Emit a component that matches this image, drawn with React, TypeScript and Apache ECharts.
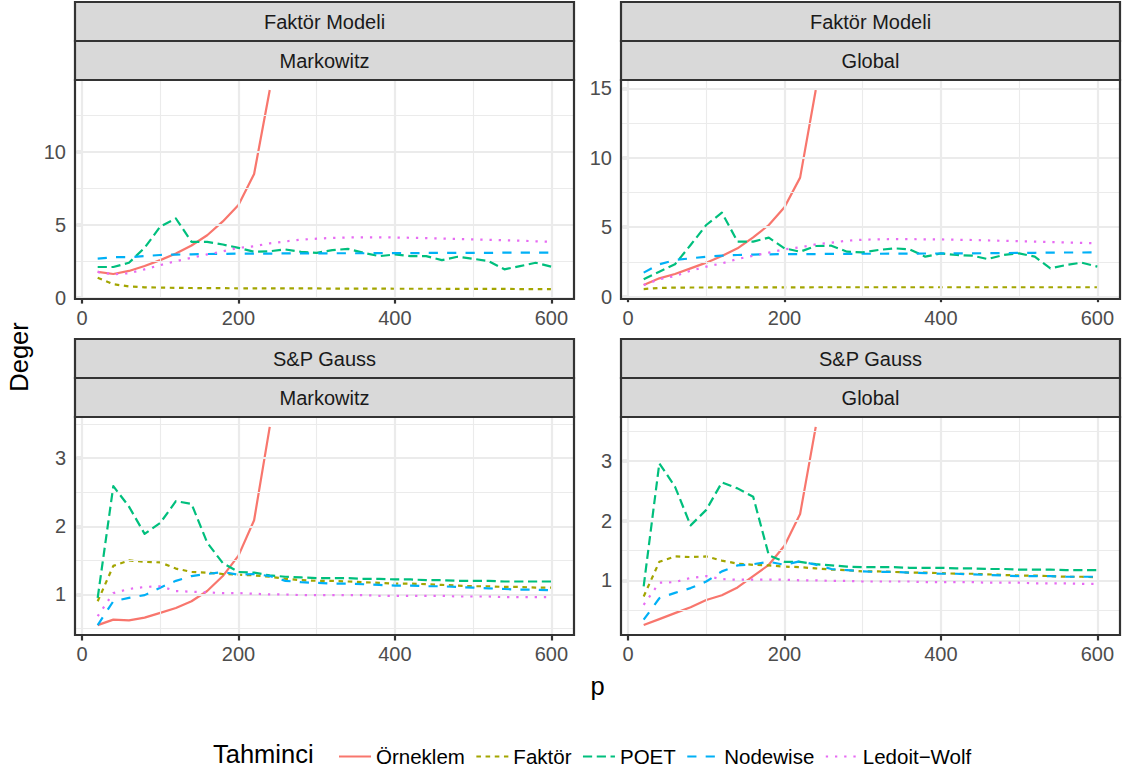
import React, { useEffect, useRef } from "react";
import * as echarts from "echarts";

// ---------- data ----------
const P = [20, 40, 60, 80, 100, 120, 140, 160, 180, 200, 220, 240, 260, 280, 300, 320, 340, 360, 380, 400, 420, 440, 460, 480, 500, 520, 540, 560, 580, 600];

const ESTIMATORS = ["Örneklem", "Faktör", "POET", "Nodewise", "Ledoit−Wolf"];

const STRIP_TOP = ["Faktör Modeli", "Faktör Modeli", "S&P Gauss", "S&P Gauss"];
const STRIP_BOTTOM = ["Markowitz", "Global", "Markowitz", "Global"];

const X_TICKS = [0, 200, 400, 600];
const X_MINOR = [100, 300, 500];

const Y_TICKS_FM_MARK = [0, 5, 10];
const Y_MINOR_FM_MARK = [2.5, 7.5, 12.5];
const Y_TICKS_FM_GLOB = [0, 5, 10, 15];
const Y_MINOR_FM_GLOB = [2.5, 7.5, 12.5];
const Y_TICKS_SP_MARK = [1, 2, 3];
const Y_MINOR_SP_MARK = [0.5, 1.5, 2.5, 3.5];
const Y_TICKS_SP_GLOB = [1, 2, 3];
const Y_MINOR_SP_GLOB = [0.5, 1.5, 2.5, 3.5];

// Faktör Modeli / Markowitz
const FM_MARK_ORN = [1.79, 1.65, 1.86, 2.2, 2.6, 3.05, 3.6, 4.3, 5.25, 6.38, 8.5, 14.25];
const FM_MARK_FAK = [1.4, 0.95, 0.8, 0.74, 0.72, 0.7, 0.69, 0.68, 0.68, 0.67, 0.67, 0.67, 0.66, 0.66, 0.66, 0.65, 0.65, 0.65, 0.65, 0.64, 0.64, 0.64, 0.64, 0.63, 0.63, 0.63, 0.63, 0.62, 0.62, 0.62];
const FM_MARK_POET = [2.13, 2.13, 2.42, 3.44, 4.9, 5.45, 3.85, 3.85, 3.67, 3.44, 3.17, 3.21, 3.33, 3.17, 3.1, 3.28, 3.37, 3.1, 2.87, 2.99, 2.87, 2.87, 2.6, 2.83, 2.69, 2.53, 1.97, 2.19, 2.42, 2.15];
const FM_MARK_NODE = [2.7, 2.8, 2.8, 2.88, 2.95, 2.98, 3.0, 3.02, 3.03, 3.04, 3.05, 3.05, 3.06, 3.06, 3.06, 3.07, 3.07, 3.07, 3.08, 3.08, 3.08, 3.09, 3.09, 3.1, 3.1, 3.1, 3.11, 3.11, 3.12, 3.12];
const FM_MARK_LW = [1.79, 1.63, 1.7, 1.97, 2.26, 2.53, 2.76, 2.99, 3.2, 3.44, 3.55, 3.75, 3.88, 4.0, 4.07, 4.12, 4.15, 4.16, 4.16, 4.15, 4.13, 4.11, 4.08, 4.05, 4.02, 3.99, 3.96, 3.93, 3.89, 3.85];

// Faktör Modeli / Global
const FM_GLOB_ORN = [0.84, 1.32, 1.63, 2.04, 2.45, 2.93, 3.48, 4.27, 5.16, 6.43, 8.57, 14.88];
const FM_GLOB_FAK = [0.55, 0.63, 0.65, 0.66, 0.66, 0.67, 0.67, 0.67, 0.67, 0.67, 0.67, 0.68, 0.68, 0.68, 0.68, 0.68, 0.68, 0.68, 0.68, 0.68, 0.68, 0.68, 0.68, 0.68, 0.68, 0.68, 0.68, 0.68, 0.68, 0.68];
const FM_GLOB_POET = [1.25, 1.8, 2.33, 3.72, 5.16, 6.05, 3.96, 3.96, 4.25, 3.48, 3.24, 3.65, 3.67, 3.24, 3.19, 3.36, 3.48, 3.41, 2.88, 3.12, 3.0, 2.95, 2.71, 3.0, 3.12, 2.88, 2.04, 2.28, 2.45, 2.16];
const FM_GLOB_NODE = [1.73, 2.33, 2.64, 2.76, 2.88, 2.95, 3.0, 3.03, 3.05, 3.06, 3.07, 3.07, 3.08, 3.08, 3.09, 3.09, 3.1, 3.1, 3.11, 3.11, 3.12, 3.12, 3.13, 3.14, 3.15, 3.16, 3.17, 3.18, 3.18, 3.19];
const FM_GLOB_LW = [0.84, 1.25, 1.49, 1.87, 2.16, 2.4, 2.71, 2.95, 3.17, 3.41, 3.55, 3.77, 3.89, 4.03, 4.1, 4.13, 4.14, 4.14, 4.13, 4.12, 4.1, 4.08, 4.05, 4.02, 3.99, 3.96, 3.93, 3.9, 3.87, 3.84];

// S&P Gauss / Markowitz
const SP_MARK_ORN = [0.55, 0.63, 0.62, 0.66, 0.73, 0.8, 0.9, 1.05, 1.27, 1.57, 2.09, 3.46];
const SP_MARK_FAK = [0.9, 1.42, 1.5, 1.48, 1.47, 1.38, 1.33, 1.32, 1.3, 1.29, 1.28, 1.26, 1.23, 1.21, 1.2, 1.2, 1.19, 1.18, 1.17, 1.16, 1.16, 1.15, 1.14, 1.13, 1.12, 1.12, 1.11, 1.11, 1.1, 1.1];
const SP_MARK_POET = [0.95, 2.59, 2.29, 1.89, 2.05, 2.37, 2.33, 1.76, 1.46, 1.33, 1.32, 1.28, 1.26, 1.25, 1.24, 1.24, 1.24, 1.23, 1.23, 1.22, 1.22, 1.21, 1.21, 1.2, 1.2, 1.2, 1.19, 1.19, 1.19, 1.19];
const SP_MARK_NODE = [0.55, 0.9, 0.95, 0.99, 1.1, 1.2, 1.27, 1.3, 1.33, 1.29, 1.3, 1.27, 1.2, 1.18, 1.17, 1.16, 1.16, 1.15, 1.14, 1.13, 1.13, 1.12, 1.12, 1.11, 1.1, 1.09, 1.08, 1.07, 1.07, 1.06];
const SP_MARK_LW = [0.68, 1.02, 1.08, 1.11, 1.12, 1.05, 1.04, 1.03, 1.02, 1.02, 1.01, 1.0, 1.0, 0.99, 0.99, 0.99, 0.99, 0.99, 0.98, 0.98, 0.98, 0.98, 0.98, 0.97, 0.97, 0.97, 0.96, 0.96, 0.96, 0.96];

// S&P Gauss / Global
const SP_GLOB_ORN = [0.25, 0.35, 0.45, 0.55, 0.67, 0.75, 0.88, 1.07, 1.26, 1.58, 2.11, 3.57];
const SP_GLOB_FAK = [0.73, 1.31, 1.4, 1.39, 1.4, 1.33, 1.28, 1.26, 1.25, 1.23, 1.22, 1.2, 1.18, 1.17, 1.15, 1.15, 1.14, 1.13, 1.13, 1.12, 1.11, 1.11, 1.1, 1.09, 1.08, 1.08, 1.07, 1.06, 1.06, 1.05];
const SP_GLOB_POET = [0.9, 2.96, 2.57, 1.92, 2.18, 2.64, 2.54, 2.4, 1.42, 1.31, 1.31, 1.27, 1.25, 1.23, 1.22, 1.22, 1.22, 1.21, 1.21, 1.21, 1.2, 1.2, 1.19, 1.19, 1.18, 1.18, 1.18, 1.17, 1.17, 1.17];
const SP_GLOB_NODE = [0.34, 0.7, 0.79, 0.87, 0.98, 1.15, 1.25, 1.27, 1.31, 1.26, 1.32, 1.26, 1.19, 1.17, 1.15, 1.14, 1.14, 1.13, 1.12, 1.11, 1.11, 1.1, 1.09, 1.08, 1.07, 1.07, 1.07, 1.06, 1.06, 1.06];
const SP_GLOB_LW = [0.59, 0.96, 0.97, 1.04, 1.07, 1.02, 1.01, 1.01, 1.01, 1.01, 1.0, 1.0, 0.99, 0.99, 0.98, 0.98, 0.98, 0.98, 0.97, 0.97, 0.97, 0.97, 0.96, 0.96, 0.96, 0.95, 0.95, 0.95, 0.94, 0.94];

// ---------- styling / layout ----------
const FONT = "'Liberation Sans', Arial, Helvetica, sans-serif";
const COLORS = ["#F8766D", "#A3A500", "#00BF7D", "#00B0F6", "#E76BF3"];
const LW = 2.2;
const DASHES: any[] = ["solid", [4.6, 4.6], [9.2, 4.6], [9.2, 9.2], [2.3, 6.9]];
const SMALL = 20;
const LARGE = 25.5;

const PANEL_POS = [
  { left: 75, top: 80, width: 499, height: 219 },
  { left: 621, top: 80, width: 499, height: 219 },
  { left: 75, top: 417, width: 499, height: 218 },
  { left: 621, top: 417, width: 499, height: 218 },
];
const STRIP_H = 39;

const PANEL_SERIES = [
  [FM_MARK_ORN, FM_MARK_FAK, FM_MARK_POET, FM_MARK_NODE, FM_MARK_LW],
  [FM_GLOB_ORN, FM_GLOB_FAK, FM_GLOB_POET, FM_GLOB_NODE, FM_GLOB_LW],
  [SP_MARK_ORN, SP_MARK_FAK, SP_MARK_POET, SP_MARK_NODE, SP_MARK_LW],
  [SP_GLOB_ORN, SP_GLOB_FAK, SP_GLOB_POET, SP_GLOB_NODE, SP_GLOB_LW],
];
const PANEL_YTICKS = [Y_TICKS_FM_MARK, Y_TICKS_FM_GLOB, Y_TICKS_SP_MARK, Y_TICKS_SP_GLOB];
const PANEL_YMINOR = [Y_MINOR_FM_MARK, Y_MINOR_FM_GLOB, Y_MINOR_SP_MARK, Y_MINOR_SP_GLOB];

function expand(vals: number[]) {
  const lo = Math.min(...vals);
  const hi = Math.max(...vals);
  const r = hi - lo;
  return [lo - 0.05 * r, hi + 0.05 * r];
}

function buildOption() {
  const grid: any[] = [];
  const xAxis: any[] = [];
  const yAxis: any[] = [];
  const series: any[] = [];
  const graphic: any[] = [];
  const [xlo, xhi] = expand(P);

  PANEL_POS.forEach((pos, i) => {
    grid.push({ ...pos, show: true, backgroundColor: "#ffffff", borderWidth: 0 });
    const all = ([] as number[]).concat(...PANEL_SERIES[i]);
    const [ylo, yhi] = expand(all);
    const tickStyle = { show: true, length: 5.5, lineStyle: { color: "#333333", width: LW } };
    const labelStyle = { color: "#4D4D4D", fontSize: SMALL, fontFamily: FONT };
    xAxis.push({
      type: "value", gridIndex: i, min: xlo, max: xhi,
      axisLine: { show: false }, splitLine: { show: false },
      axisTick: { ...tickStyle, customValues: X_TICKS },
      axisLabel: { ...labelStyle, margin: 9, customValues: X_TICKS },
    });
    yAxis.push({
      type: "value", gridIndex: i, min: ylo, max: yhi,
      axisLine: { show: false }, splitLine: { show: false },
      axisTick: { ...tickStyle, customValues: PANEL_YTICKS[i] },
      axisLabel: { ...labelStyle, margin: 9, customValues: PANEL_YTICKS[i] },
    });

    const gl: any[] = [];
    X_MINOR.forEach((v) => gl.push({ xAxis: v, lineStyle: { color: "#EBEBEB", width: 1.1, type: "solid" } }));
    PANEL_YMINOR[i].forEach((v) => { if (v > ylo && v < yhi) gl.push({ yAxis: v, lineStyle: { color: "#EBEBEB", width: 1.1, type: "solid" } }); });
    X_TICKS.forEach((v) => gl.push({ xAxis: v, lineStyle: { color: "#EBEBEB", width: LW, type: "solid" } }));
    PANEL_YTICKS[i].forEach((v) => gl.push({ yAxis: v, lineStyle: { color: "#EBEBEB", width: LW, type: "solid" } }));
    series.push({
      type: "line", name: "_grid" + i, xAxisIndex: i, yAxisIndex: i, z: 1, silent: true,
      data: [[P[0], PANEL_SERIES[i][0][0]]], showSymbol: false, symbol: "none",
      lineStyle: { opacity: 0 },
      markLine: { symbol: ["none", "none"], silent: true, label: { show: false }, animation: false, data: gl },
    });

    ESTIMATORS.forEach((name, k) => {
      const vals = PANEL_SERIES[i][k];
      series.push({
        type: "line", name, xAxisIndex: i, yAxisIndex: i, z: 3 + k,
        data: vals.map((v, j) => [P[j], v]),
        showSymbol: false, symbol: "none", silent: true,
        color: COLORS[k],
        lineStyle: { color: COLORS[k], width: LW, type: DASHES[k], cap: "butt", join: "round" },
      });
    });

    // strips
    const s1y = pos.top - 2 * STRIP_H;
    const s2y = pos.top - STRIP_H;
    [[s1y, STRIP_TOP[i]], [s2y, STRIP_BOTTOM[i]]].forEach(([y, label]: any) => {
      graphic.push({
        type: "rect", z: 100,
        shape: { x: pos.left, y, width: pos.width, height: STRIP_H },
        style: { fill: "#D9D9D9", stroke: "#333333", lineWidth: LW },
      });
      graphic.push({
        type: "text", z: 101, x: pos.left + pos.width / 2, y: y + STRIP_H / 2,
        style: { text: label, fill: "#1A1A1A", font: `${SMALL}px ${FONT}`, textAlign: "center", textVerticalAlign: "middle" },
      });
    });
    // panel border
    graphic.push({
      type: "rect", z: 100,
      shape: { x: pos.left, y: pos.top, width: pos.width, height: pos.height },
      style: { fill: "none", stroke: "#333333", lineWidth: LW },
    });
  });

  // axis titles
  graphic.push({
    type: "text", z: 101, x: 597.5, y: 686,
    style: { text: "p", fill: "#000000", font: `${LARGE}px ${FONT}`, textAlign: "center", textVerticalAlign: "middle" },
  });
  graphic.push({
    type: "text", z: 101, x: 19, y: 357, rotation: Math.PI / 2,
    style: { text: "Deger", fill: "#000000", font: `${LARGE}px ${FONT}`, textAlign: "center", textVerticalAlign: "middle" },
  });
  graphic.push({
    type: "text", z: 101, x: 213, y: 754,
    style: { text: "Tahminci", fill: "#000000", font: `${LARGE}px ${FONT}`, textAlign: "left", textVerticalAlign: "middle" },
  });

  return {
    animation: false,
    backgroundColor: "#ffffff",
    grid, xAxis, yAxis, series, graphic,
    legend: {
      data: ESTIMATORS, left: 333, top: 741, orient: "horizontal",
      itemWidth: 32, itemHeight: 14, itemGap: 10.5, selectedMode: false,
      itemStyle: { opacity: 0, borderWidth: 0 },
      textStyle: { fontSize: 20.5, color: "#000000", fontFamily: FONT },
    },
  };
}

export default function App() {
  const ref = useRef<HTMLDivElement>(null);
  useEffect(() => {
    if (!ref.current) return;
    const chart = echarts.init(ref.current, undefined, { renderer: "svg" });
    chart.setOption(buildOption() as any);
    return () => chart.dispose();
  }, []);
  return (
    <div
      ref={ref}
      style={{ position: "fixed", left: 0, top: 0, width: 1134, height: 771, background: "#fff" }}
    />
  );
}
